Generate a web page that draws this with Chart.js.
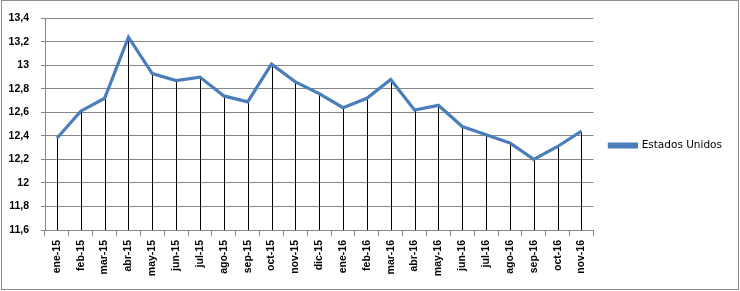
<!DOCTYPE html>
<html>
<head>
<meta charset="utf-8">
<script src="https://cdn.jsdelivr.net/npm/chart.js@4.4.1/dist/chart.umd.min.js"></script>
<style>
html, body { margin: 0; padding: 0; background: #fff; }
canvas { display: block; }
</style>
</head>
<body>
<canvas id="chart" width="740" height="291"></canvas>
<script>
// Data
const months = ['ene-15', 'feb-15', 'mar-15', 'abr-15', 'may-15', 'jun-15', 'jul-15', 'ago-15',
    'sep-15', 'oct-15', 'nov-15', 'dic-15', 'ene-16', 'feb-16', 'mar-16', 'abr-16', 'may-16',
    'jun-16', 'jul-16', 'ago-16', 'sep-16', 'oct-16', 'nov-16'];
const estadosUnidos = [12.38, 12.61, 12.72, 13.24, 12.93, 12.87, 12.90, 12.74,
    12.69, 13.01, 12.86, 12.76, 12.64, 12.72, 12.88, 12.62, 12.66,
    12.48, 12.41, 12.34, 12.20, 12.31, 12.44];
const yMin = 11.6;
const yMax = 13.4;
const yStep = 0.2;

const axisFont = { family: "'Liberation Sans Narrow', 'Liberation Sans', Arial, sans-serif", size: 10.5, weight: 'bold' };

// Black drop lines from each point down to the category axis
const dropLines = {
    id: 'dropLines',
    beforeDatasetsDraw(chart) {
        const ctx = chart.ctx;
        const meta = chart.getDatasetMeta(0);
        const bottom = chart.scales.y.getPixelForValue(yMin);
        ctx.save();
        ctx.strokeStyle = '#000';
        ctx.lineWidth = 1;
        meta.data.forEach(pt => {
            const x = Math.round(pt.x) + 0.5;
            ctx.beginPath();
            ctx.moveTo(x, pt.y);
            ctx.lineTo(x, bottom);
            ctx.stroke();
        });
        ctx.restore();
    }
};

// Thin grey frame around the whole chart
const outerFrame = {
    id: 'outerFrame',
    afterDraw(chart) {
        const ctx = chart.ctx;
        ctx.save();
        ctx.strokeStyle = '#8c8c8c';
        ctx.lineWidth = 1;
        ctx.strokeRect(1.5, 0.5, chart.width - 3, chart.height - 2);
        ctx.restore();
    }
};

new Chart(document.getElementById('chart').getContext('2d'), {
    type: 'line',
    data: {
        labels: months,
        datasets: [{
            label: 'Estados Unidos',
            data: estadosUnidos,
            borderColor: '#4a7ebb',
            backgroundColor: '#4a7ebb',
            borderWidth: 3.2,
            pointRadius: 0,
            tension: 0,
            fill: false
        }]
    },
    options: {
        responsive: false,
        animation: false,
        devicePixelRatio: 1,
        layout: {
            padding: { top: 0, right: 8, left: 0, bottom: 0 }
        },
        plugins: {
            // empty title only keeps the plot top margin, legend stays full height
            title: {
                display: true,
                text: '',
                fullSize: false,
                font: { size: 10, lineHeight: 1 },
                padding: { top: 6, bottom: 0 }
            },
            legend: {
                position: 'right',
                labels: {
                    boxWidth: 27,
                    boxHeight: 3,
                    padding: 16,
                    color: '#000',
                    font: { family: "'DejaVu Sans', Verdana, sans-serif", size: 10.5 }
                }
            },
            tooltip: { enabled: false }
        },
        scales: {
            x: {
                offset: true,
                grid: {
                    offset: true,
                    drawOnChartArea: false,
                    drawTicks: true,
                    tickLength: 6,
                    color: '#868686'
                },
                border: { color: '#868686' },
                ticks: {
                    minRotation: 90,
                    maxRotation: 90,
                    autoSkip: false,
                    padding: 4,
                    color: '#000',
                    font: axisFont
                },
                afterFit(scale) { scale.height = 61; }
            },
            y: {
                min: yMin,
                max: yMax,
                grid: {
                    color: '#868686',
                    tickLength: 4
                },
                border: { color: '#868686' },
                ticks: {
                    stepSize: yStep,
                    padding: 12,
                    color: '#000',
                    font: axisFont,
                    callback: v => String(Number(v.toFixed(1))).replace('.', ',')
                },
                afterFit(scale) { scale.width = 45; }
            }
        }
    },
    plugins: [dropLines, outerFrame]
});
</script>
</body>
</html>
